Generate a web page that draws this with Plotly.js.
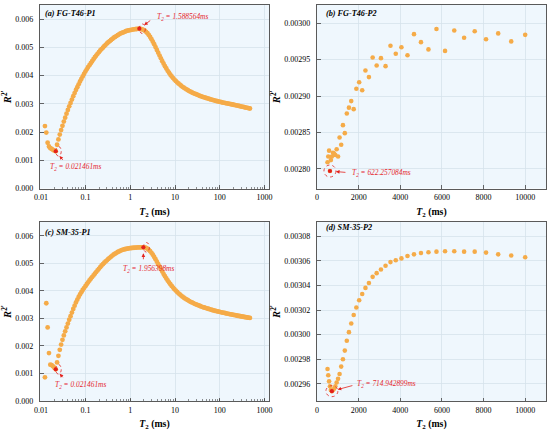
<!DOCTYPE html>
<html><head><meta charset="utf-8">
<script src="https://cdn.plot.ly/plotly-3.0.1.min.js"></script>
<style>html,body{margin:0;padding:0;background:#fff}#chart{width:550px;height:434px}</style>
</head><body><div id="chart"></div>
<script>
// T2 grid (ms) for the P1 panels (a, c)
const T2_P1 = [0.012315,0.0132,0.014149,0.015166,0.016257,0.017426,0.018678,0.020021,0.021461,0.023004,
0.024657,0.02643,0.02833,0.030367,0.03255,0.03489,0.037398,0.040087,0.042969,0.046058,
0.049369,0.052918,0.056722,0.0608,0.065171,0.069856,0.074878,0.080261,0.086031,0.092216,
0.098846,0.10595,0.11357,0.12173,0.13049,0.13987,0.14992,0.1607,0.17225,0.18464,
0.19791,0.21214,0.22739,0.24374,0.26126,0.28004,0.30018,0.32176,0.34489,0.36968,
0.39626,0.42475,0.45528,0.48801,0.5231,0.5607,0.60101,0.64422,0.69054,0.74018,
0.7934,0.85043,0.91157,0.97711,1.0474,1.1227,1.2034,1.2899,1.3826,1.482,
1.5886,1.7028,1.8252,1.9564,2.097,2.2478,2.4094,2.5826,2.7683,2.9673,
3.1806,3.4093,3.6544,3.9171,4.1987,4.5006,4.8241,5.1709,5.5427,5.9411,
6.3682,6.8261,7.3168,7.8428,8.4066,9.011,9.6588,10.353,11.098,11.895,
12.75,13.667,14.65,15.703,16.832,18.042,19.339,20.729,22.22,23.817,
25.529,27.365,29.332,31.441,33.701,36.124,38.721,41.504,44.488,47.686,
51.114,54.789,58.728,62.95,67.475,72.326,77.526,83.099,89.073,95.477,
102.34,109.7,117.58,126.04,135.1,144.81,155.22,166.38,178.34,191.16,
204.9,219.63,235.42,252.35,270.49,289.93,310.78,333.12,357.07,382.74,
410.25,439.74,471.36];

// (a) FG-T46-P1
const R2_A = [0.00221,0.00198,0.00162,0.00149,0.00143,0.0014,0.00137,0.00134,0.00132,0.00155,
0.00174,0.00191,0.00207,0.00222,0.00237,0.00251,0.00265,0.00278,0.00291,0.00303,
0.00315,0.00327,0.00338,0.00349,0.00359,0.00369,0.00379,0.00388,0.00397,0.00406,
0.00414,0.00422,0.0043,0.00437,0.00444,0.00451,0.00458,0.00465,0.00471,0.00477,
0.00483,0.00489,0.00494,0.00499,0.00504,0.00509,0.00514,0.00518,0.00522,0.00526,
0.0053,0.00534,0.00537,0.0054,0.00543,0.00546,0.00549,0.00551,0.00553,0.00555,
0.00557,0.00559,0.0056,0.00561,0.00562,0.00563,0.00564,0.005645,0.00565,0.005655,
0.00566,0.00565,0.00564,0.00562,0.00559,0.00555,0.0055,0.00544,0.00537,0.00529,
0.0052,0.00511,0.00501,0.00491,0.00481,0.00471,0.00461,0.00451,0.00442,0.00433,
0.00425,0.00417,0.0041,0.00403,0.00397,0.00391,0.00386,0.00381,0.00376,0.00372,
0.00368,0.00364,0.0036,0.00357,0.00354,0.00351,0.00348,0.00345,0.00343,0.0034,
0.00338,0.00336,0.00334,0.00332,0.0033,0.00328,0.00326,0.003245,0.00323,0.003215,
0.0032,0.003185,0.00317,0.003155,0.00314,0.00313,0.003115,0.0031,0.00309,0.00308,
0.003065,0.003055,0.003045,0.003035,0.003025,0.003015,0.003005,0.002995,0.002985,0.002975,
0.002966,0.002955,0.002944,0.002933,0.002922,0.002911,0.0029,0.002889,0.002878,0.002867,
0.002856,0.002845,0.002834];

// (c) SM-35-P1
const R2_C = [0.00086,0.00355,0.00267,0.00174,0.00132,0.0013,0.00126,0.00121,0.00115,0.0014,
0.00164,0.00186,0.00205,0.00222,0.00238,0.00253,0.00267,0.00281,0.00295,0.00308,
0.00321,0.00334,0.00346,0.00358,0.00368,0.00378,0.00387,0.00395,0.00403,0.0041,
0.00417,0.00424,0.00431,0.00438,0.00444,0.0045,0.00456,0.00462,0.00468,0.00474,
0.0048,0.00486,0.00492,0.00497,0.00502,0.00507,0.00511,0.00516,0.0052,0.00524,
0.00528,0.00532,0.00535,0.00538,0.00541,0.00543,0.00546,0.00548,0.0055,0.00551,
0.00552,0.00553,0.00554,0.00555,0.005555,0.00556,0.005565,0.00557,0.005573,0.005576,
0.005578,0.00558,0.005581,0.005582,0.005575,0.00556,0.00553,0.00549,0.00544,0.00538,
0.00531,0.00523,0.00515,0.00506,0.00497,0.00488,0.00479,0.0047,0.00461,0.00453,
0.00445,0.00438,0.00431,0.00424,0.00418,0.00412,0.00406,0.00401,0.00396,0.00391,
0.00387,0.00383,0.00379,0.00375,0.00372,0.00369,0.00366,0.00363,0.0036,0.00358,
0.003555,0.00353,0.00351,0.00349,0.00347,0.00345,0.00343,0.00341,0.003395,0.00338,
0.003365,0.00335,0.003335,0.00332,0.003305,0.00329,0.003278,0.003266,0.003254,0.003242,
0.00323,0.003219,0.003208,0.003197,0.003186,0.003175,0.003165,0.003155,0.003145,0.003135,
0.003125,0.003115,0.003105,0.003096,0.003087,0.003078,0.003069,0.00306,0.003051,0.003042,
0.003033,0.003024,0.003015];

// T2 grid (ms) for the P2 panels (b, d)
const T2_P2 = [505.24,541.56,580.5,622.26,666.96,714.94,766.31,821.4,880.45,943.75,
1011.6,1084.3,1162.3,1245.8,1335.4,1431.4,1534.3,1644.6,1762.9,1889.6,
2025.4,2171,2327.1,2494.4,2673.8,2866,3072,3292.9,3529.6,3783.4,
4055.4,4346.9,4659.4,4994.4,5353.5,5738.3,6150.9,6593.1,7067.1,7575.1,
8119.7,8703.5,9329.2,10000];

// (b) FG-T46-P2
const R2_B = [0.002809,0.002817,0.002825,0.002797,0.002812,0.002817,0.002822,0.002821,0.002819,0.002827,
0.002817,0.002843,0.002833,0.00286,0.002849,0.002876,0.002884,0.002893,0.002882,0.00291,
0.002919,0.002908,0.002935,0.002926,0.002953,0.002942,0.002952,0.002941,0.002969,0.002958,
0.002967,0.002956,0.002985,0.002974,0.002964,0.002992,0.002962,0.00299,0.00298,0.002989,
0.002978,0.002986,0.002975,0.002984];

// (d) SM-35-P2
const R2_D = [0.002972,0.002967,0.002962,0.002958,0.002955,0.002954,0.002955,0.002956,0.002958,0.002961,
0.002964,0.002968,0.002974,0.00298,0.002987,0.002995,0.003002,0.003009,0.003016,0.003022,
0.003028,0.003033,0.003038,0.003042,0.003047,0.00305,0.003053,0.003056,0.003059,0.0030605,
0.003062,0.003064,0.0030653,0.0030664,0.003067,0.0030675,0.0030678,0.0030678,0.0030675,0.0030675,
0.0030667,0.0030653,0.0030643,0.0030629];

const PANEL_TITLES = ['(a) FG-T46-P1','(b) FG-T46-P2','(c) SM-35-P1','(d) SM-35-P2'];
const LOG_TICKS = [0.01,0.1,1,10,100,1000];
const LOG_TICK_TEXT = ['0.01','0.1','1','10','100','1000'];
const LIN_TICKS = [0,2000,4000,6000,8000,10000];
const LIN_TICK_TEXT = ['0','2000','4000','6000','8000','10000'];
const Y_TICKS_AC = [0,0.001,0.002,0.003,0.004,0.005,0.006];
const Y_TICKS_B = [0.0028,0.00285,0.0029,0.00295,0.003];
const Y_TICKS_D = [0.00296,0.00298,0.003,0.00302,0.00304,0.00306,0.00308];
// highlighted T2 values (ms)
const MARK_T2 = [0.021461,1.588564,622.257084,0.021461,1.956398,714.942899];
const MARK_PANEL = [0,0,1,2,2,3];

const panels = [
  {x:T2_P1, y:R2_A, log:true},
  {x:T2_P2, y:R2_B, log:false},
  {x:T2_P1, y:R2_C, log:true},
  {x:T2_P2, y:R2_D, log:false}
];
// label placement (pixels relative to the marked point)
const markStyle = [
  {tx:-7.7, ty:-16, xa:'left', ax:8.3, ay:10.2, rx:5.5, ry:4.8},
  {tx:15.7, ty:11.3, xa:'left', ax:12.4, ay:-9.3, rx:6, ry:4.8},
  {tx:20, ty:-1.5, xa:'left', ax:17, ay:1.5, rx:6, ry:6},
  {tx:-2.4, ty:-16, xa:'left', ax:8.3, ay:9.4, rx:5.5, ry:4.8},
  {tx:5.6, ty:-22, xa:'center', ax:0, ay:13.5, rx:6, ry:4.8},
  {tx:23, ty:7.5, xa:'left', ax:22, ay:-6, rx:6, ry:5.5}
];

const FONT = 'Liberation Serif, Times New Roman, serif';
const ORANGE = '#F5AB48';
const RED = '#E3211C';

function nearest(xs, v){let b=0;for(let i=0;i<xs.length;i++){if(Math.abs(Math.log(xs[i]/v))<Math.abs(Math.log(xs[b]/v)))b=i;}return b;}

const doms = [
  {x:[40/550,269/550], y:[1-188.5/434,1-5/434]},
  {x:[317/550,546/550], y:[1-188.5/434,1-5/434]},
  {x:[40/550,269/550], y:[1-401/434,1-222/434]},
  {x:[317/550,546/550], y:[1-401/434,1-222/434]}
];
const yranges = [[0,0.0065],[0.002773,0.003025],[0,0.0065],[0.002946,0.0030916]];
const yticks = [Y_TICKS_AC,Y_TICKS_B,Y_TICKS_AC,Y_TICKS_D];
const yfmt = ['.3f','.5f','.3f','.5f'];

const traces = [];
const layout = {
  width:550, height:434, margin:{l:0,r:0,t:0,b:0},
  paper_bgcolor:'#ffffff', plot_bgcolor:'#EFF7FD', showlegend:false,
  font:{family:FONT, size:8, color:'#000'},
  annotations:[], shapes:[]
};

panels.forEach((p,i)=>{
  const n = i===0?'':String(i+1);
  const xa='x'+n, ya='y'+n;
  traces.push({x:p.x, y:p.y, xaxis:xa, yaxis:ya, type:'scatter', mode:'markers',
    marker:{color:ORANGE, size:p.log?4.8:4.6, line:{width:0}}, hoverinfo:'skip'});
  const common = {showline:true, linecolor:'#5a5a5a', linewidth:1.2, mirror:true,
    ticks:'inside', ticklen:3.5, tickwidth:0.8, tickcolor:'#444', zeroline:false,
    showgrid:true, gridcolor:'#D6E2EB', gridwidth:0.8,
    tickfont:{family:FONT, size:8, color:'#000'}};
  const xaxis = Object.assign({}, common, {domain:doms[i].x, anchor:ya, ticklabelstandoff:1,
    title:{text:'<b><i>T</i><sub>2</sub> (ms)</b>', font:{family:FONT,size:9.8,color:'#000'}, standoff:6}});
  if(p.log){
    Object.assign(xaxis,{type:'log', range:[-2.02,3.1], tickmode:'array', tickvals:LOG_TICKS, ticktext:LOG_TICK_TEXT,
      minor:{ticks:'inside', ticklen:2, tickwidth:0.6, tickcolor:'#444', dtick:'D1', showgrid:false}});
  } else {
    Object.assign(xaxis,{type:'linear', range:[0,11000], tickmode:'array', tickvals:LIN_TICKS, ticktext:LIN_TICK_TEXT});
  }
  const yaxis = Object.assign({}, common, {domain:doms[i].y, anchor:xa, range:yranges[i],
    tickmode:'array', tickvals:yticks[i], tickformat:yfmt[i], ticklabelstandoff:4,
    title:{text:"<b><i>R</i><sup>2'</sup></b>", font:{family:FONT,size:10.5,color:'#000'}, standoff:1}});
  layout['xaxis'+n]=xaxis; layout['yaxis'+n]=yaxis;
  layout.annotations.push({xref:xa+' domain', yref:ya+' domain', x:(i%2===0?0.012:0.032),
    y:(i===3?0.972:(i===2?0.944:0.951)), xanchor:'left', yanchor:'middle', showarrow:false,
    text:'<b><i>'+PANEL_TITLES[i]+'</i></b>', font:{family:FONT,size:8.2,color:'#000'}});
});

MARK_T2.forEach((t2,k)=>{
  const pi = MARK_PANEL[k], p = panels[pi], s = markStyle[k];
  const n = pi===0?'':String(pi+1);
  const xa='x'+n, ya='y'+n;
  const j = nearest(p.x, t2);
  const xv = p.x[j], yv = p.y[j];
  const ax = p.log ? Math.log10(xv) : xv;
  traces.push({x:[xv], y:[yv], xaxis:xa, yaxis:ya, type:'scatter', mode:'markers',
    marker:{color:RED, size:4.2}, hoverinfo:'skip'});
  layout.shapes.push({type:'circle', xref:xa, yref:ya, xsizemode:'pixel', ysizemode:'pixel',
    xanchor:xv, yanchor:yv, x0:-s.rx, x1:s.rx, y0:-s.ry, y1:s.ry,
    line:{color:RED, width:0.8, dash:'dot'}});
  layout.annotations.push({xref:xa, yref:ya, x:ax, y:yv, text:'', showarrow:true,
    ax:s.ax, ay:s.ay, arrowcolor:RED, arrowhead:2, arrowsize:0.9, arrowwidth:0.8, standoff:6});
  layout.annotations.push({xref:xa, yref:ya, x:ax, y:yv, showarrow:false, xshift:s.tx, yshift:s.ty,
    xanchor:s.xa, yanchor:'middle',
    text:'<i>T<sub>2</sub> = '+String(t2)+'ms</i>', font:{family:FONT,size:7.4,color:'#E5282E'}});
});

Plotly.newPlot('chart', traces, layout, {staticPlot:true, displayModeBar:false});
</script></body></html>
